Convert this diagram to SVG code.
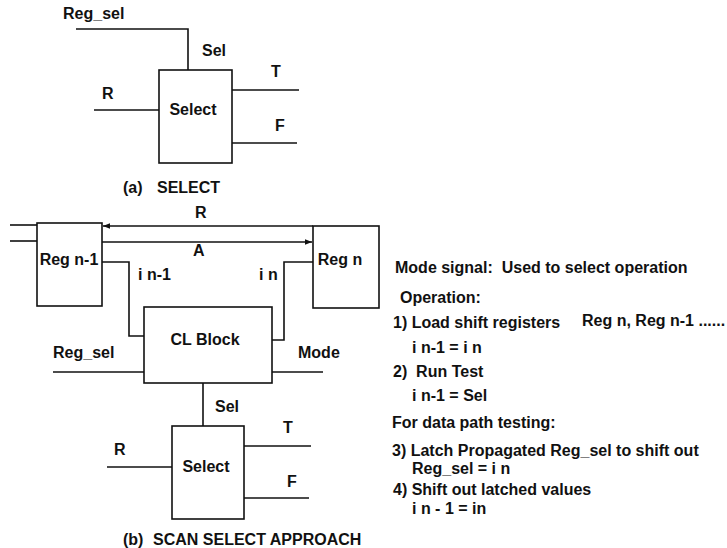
<svg xmlns="http://www.w3.org/2000/svg" width="727" height="548" viewBox="0 0 727 548">
<style>
text{font-family:"Liberation Sans",Arial,sans-serif;font-weight:bold;font-size:16px;fill:#111;white-space:pre}
.box{fill:#fff;stroke:#111;stroke-width:1.6}
.w{fill:none;stroke:#111;stroke-width:1.6}
.m{text-anchor:middle}
</style>
<defs>
<marker id="ah" viewBox="0 0 10 10" refX="10" refY="5" markerWidth="8" markerHeight="7" markerUnits="userSpaceOnUse" orient="auto">
<path d="M0,1 L10,5 L0,9 Z" fill="#111"/>
</marker>
</defs>
<rect width="727" height="548" fill="#fff"/>

<g id="connectors">
<polyline class="w" points="76,29 188,29 188,70"/>
<line class="w" x1="94" y1="110" x2="159" y2="110" stroke-width="2"/>
<line class="w" x1="232" y1="90" x2="299" y2="90"/>
<line class="w" x1="232" y1="143" x2="297" y2="143"/>
<line class="w" x1="10" y1="225" x2="37" y2="225"/>
<line class="w" x1="10" y1="241" x2="37" y2="241"/>
<line class="w" x1="313" y1="226" x2="103" y2="226" stroke-width="2" marker-end="url(#ah)"/>
<line class="w" x1="102" y1="242" x2="312" y2="242" stroke-width="2" marker-end="url(#ah)"/>
<polyline class="w" points="102,262 129,262 129,336 144,336"/>
<polyline class="w" points="313,262 284,262 284,340 272,340"/>
<line class="w" x1="53" y1="372" x2="144" y2="372"/>
<line class="w" x1="272" y1="372" x2="323" y2="372" stroke-width="2"/>
<line class="w" x1="203" y1="383" x2="203" y2="426"/>
<line class="w" x1="107" y1="467" x2="172" y2="467"/>
<line class="w" x1="244" y1="446" x2="311" y2="446"/>
<line class="w" x1="244" y1="498" x2="309" y2="498" stroke-width="2"/>
</g>

<g id="label-a">
<text x="63" y="19">Reg_sel</text>
<text x="202" y="56">Sel</text>
<text x="102" y="99">R</text>
<text x="271" y="77">T</text>
<text x="275" y="131">F</text>
<text x="123" y="193">(a)</text>
<text x="157" y="193">SELECT</text>
</g>

<g id="select-a">
<rect class="box" x="159" y="70" width="73" height="93"/>
<text class="m" x="193" y="115">Select</text>
</g>

<g id="reg-n-1">
<rect class="box" x="37" y="223" width="65" height="83"/>
<text class="m" x="69" y="265">Reg n-1</text>
</g>

<g id="reg-n">
<rect class="box" x="313" y="226" width="66" height="82"/>
<text class="m" x="340" y="265">Reg n</text>
</g>

<g id="cl-block">
<rect class="box" x="144" y="307" width="128" height="76"/>
<text class="m" x="205" y="345">CL Block</text>
</g>

<g id="select-b">
<rect class="box" x="172" y="426" width="72" height="93"/>
<text class="m" x="206" y="472">Select</text>
</g>

<g id="label-b">
<text x="195" y="218">R</text>
<text x="193" y="256">A</text>
<text x="138" y="280">i n-1</text>
<text x="259" y="280">i n</text>
<text x="53" y="358">Reg_sel</text>
<text x="298" y="358">Mode</text>
<text x="215" y="412">Sel</text>
<text x="283" y="433">T</text>
<text x="114" y="455">R</text>
<text x="287" y="487">F</text>
<text x="123" y="545">(b)</text>
<text x="153" y="545">SCAN SELECT APPROACH</text>
</g>

<g id="notes">
<text x="395" y="273">Mode signal:  Used to select operation</text>
<text x="400" y="303">Operation:</text>
<text x="393" y="328">1) Load shift registers</text>
<text x="582" y="326">Reg n, Reg n-1 ......</text>
<text x="412" y="353">i n-1 = i n</text>
<text x="393" y="377">2)  Run Test</text>
<text x="412" y="401">i n-1 = Sel</text>
<text x="392" y="428">For data path testing:</text>
<text x="392" y="456">3) Latch Propagated Reg_sel to shift out</text>
<text x="412" y="474">Reg_sel = i n</text>
<text x="393" y="495">4) Shift out latched values</text>
<text x="412" y="514">i n - 1 = in</text>
</g>
</svg>
